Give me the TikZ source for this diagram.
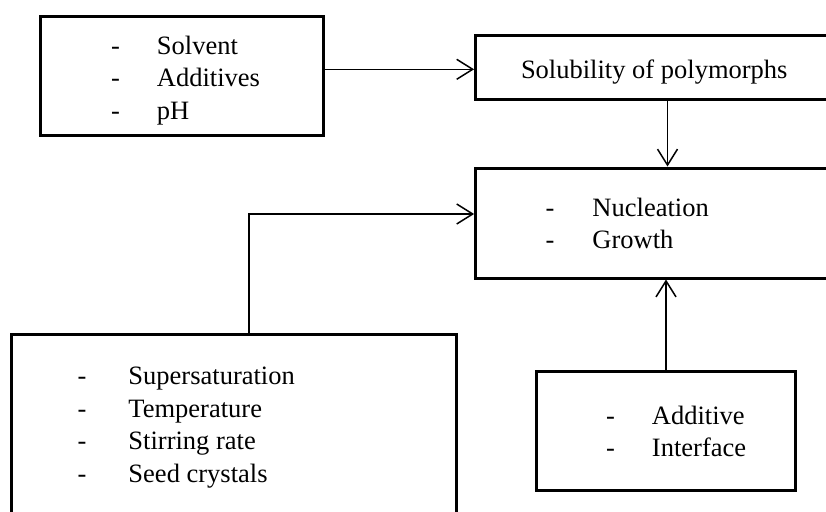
\documentclass[tikz,border=0pt]{standalone}
\usepackage{fontspec}
\setmainfont{Liberation Serif}
\usetikzlibrary{arrows.meta}
\tikzset{
  boxthick/.style={draw, rectangle, line width=3pt, inner sep=0pt, outer sep=0pt, anchor=north west},
  conn/.style={line width=1.5pt, shorten >=1.5pt, -{Straight Barb[length=16pt,width=20pt,line width=1.5pt]}},
  itemtext/.style={anchor=base west, inner sep=0pt, outer sep=0pt, font=\fontsize{26.5}{32.5}\selectfont},
}
\begin{document}
\begin{tikzpicture}[x=1pt,y=-1pt]
\useasboundingbox (0,0) rectangle (826,511);
\clip (0,0) rectangle (826,511);
% boxes
\node[boxthick, minimum width=283.5pt, minimum height=119pt] (A) at (40,16.5) {};
\node[boxthick, minimum width=400pt, minimum height=63.3pt] (B) at (475.6,36) {};
\node[boxthick, minimum width=400pt, minimum height=110pt] (C) at (475.6,168) {};
\node[boxthick, minimum width=445pt, minimum height=250pt] (D) at (11.7,334) {};
\node[boxthick, minimum width=259pt, minimum height=118.6pt] (E) at (536.7,371.7) {};
% texts
\node[itemtext] (tA) at (111,54) {\begin{tabular}[t]{@{}l@{}}\makebox[46pt][l]{-}Solvent\\\makebox[46pt][l]{-}Additives\\\makebox[46pt][l]{-}pH\end{tabular}};
\node[itemtext] (tB) at (521,78.5) {Solubility of polymorphs};
\node[itemtext] (tC) at (545.5,216) {\begin{tabular}[t]{@{}l@{}}\makebox[47pt][l]{-}Nucleation\\\makebox[47pt][l]{-}Growth\end{tabular}};
\node[itemtext] (tD) at (77.5,384.5) {\begin{tabular}[t]{@{}l@{}}\makebox[51pt][l]{-}Supersaturation\\\makebox[51pt][l]{-}Temperature\\\makebox[51pt][l]{-}Stirring rate\\\makebox[51pt][l]{-}Seed crystals\end{tabular}};
\node[itemtext] (tE) at (606,424) {\begin{tabular}[t]{@{}l@{}}\makebox[46pt][l]{-}Additive\\\makebox[46pt][l]{-}Interface\end{tabular}};
% connector helpers
\coordinate (yab) at (0,69.3);
\coordinate (xbc) at (667.5,0);
\coordinate (xd) at (249,0);
\coordinate (yd) at (0,214);
\coordinate (xe) at (666,0);
% connectors
\draw[conn] (A.east |- yab) -- (B.west |- yab);
\draw[conn] (B.south -| xbc) -- (C.north -| xbc);
\draw[conn] (D.north -| xd) |- (C.west |- yd);
\draw[conn] (E.north -| xe) -- (C.south -| xe);
\end{tikzpicture}
\end{document}
